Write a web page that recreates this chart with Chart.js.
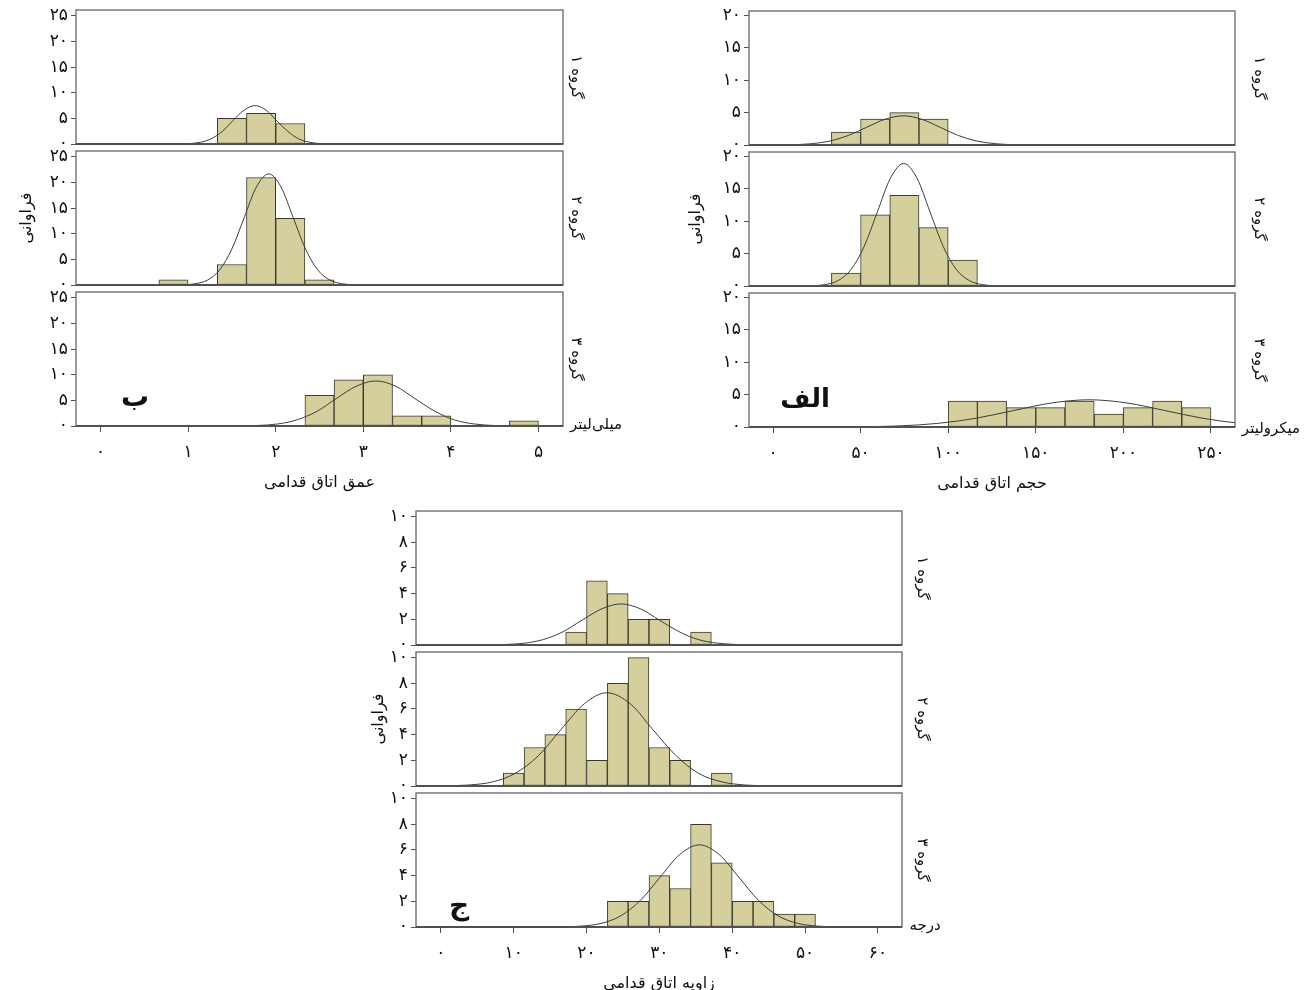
<!DOCTYPE html>
<html lang="fa">
<head>
<meta charset="utf-8">
<title>هیستوگرام اتاق قدامی</title>
<script src="https://cdn.jsdelivr.net/npm/chart.js@4.4.1/dist/chart.umd.min.js"></script>
<style>
    html, body { margin: 0; padding: 0; background: #fff; }
    body { width: 1309px; height: 990px; position: relative; overflow: hidden; font-family: "DejaVu Sans", sans-serif; }
    canvas { position: absolute; }
    .note { position: absolute; transform: translate(-50%, -50%); white-space: nowrap; color: #111; }
</style>
</head>
<body>
<script>
// ==========================
// DATA
// ==========================

const groupLabels = ["گروه ۱", "گروه ۲", "گروه ۳"];

// ب : عمق اتاق قدامی — bin width 1/3
const depthBins = [0.833, 1.167, 1.5, 1.833, 2.167, 2.5, 2.833, 3.167, 3.5, 3.833, 4.167, 4.5, 4.833];
const depthG1 = [0, 0, 5, 6, 4, 0, 0, 0, 0, 0, 0, 0, 0];
const depthG2 = [1, 0, 4, 21, 13, 1, 0, 0, 0, 0, 0, 0, 0];
const depthG3 = [0, 0, 0, 0, 0, 6, 9, 10, 2, 2, 0, 0, 1];
const depthCurveX1 = [0.76, 0.89, 1.01, 1.14, 1.26, 1.39, 1.51, 1.64, 1.76, 1.89, 2.01, 2.14, 2.26, 2.39, 2.51, 2.64, 2.76];
const depthCurveY1 = [0, 0.02, 0.08, 0.33, 1.01, 2.44, 4.55, 6.62, 7.5, 6.62, 4.55, 2.44, 1.01, 0.33, 0.08, 0.02, 0];
const depthCurveX2 = [0.80, 0.94, 1.08, 1.22, 1.36, 1.50, 1.64, 1.78, 1.92, 2.06, 2.20, 2.34, 2.48, 2.62, 2.76, 2.90, 3.04];
const depthCurveY2 = [0.01, 0.05, 0.24, 0.95, 2.94, 7.05, 13.16, 19.15, 21.7, 19.15, 13.16, 7.05, 2.94, 0.95, 0.24, 0.05, 0.01];
const depthCurveX3 = [1.34, 1.57, 1.79, 2.02, 2.24, 2.47, 2.69, 2.92, 3.14, 3.37, 3.59, 3.82, 4.04, 4.27, 4.49, 4.72, 4.94];
const depthCurveY3 = [0, 0.02, 0.10, 0.39, 1.19, 2.86, 5.34, 7.77, 8.8, 7.77, 5.34, 2.86, 1.19, 0.39, 0.10, 0.02, 0];
const depthTicks = [0, 1, 2, 3, 4, 5];
const depthTickLabels = ["۰", "۱", "۲", "۳", "۴", "۵"];
const depthYTicks = [0, 5, 10, 15, 20, 25];
const depthYTickLabels = ["۰", "۵", "۱۰", "۱۵", "۲۰", "۲۵"];

// الف : حجم اتاق قدامی — bin width 50/3
const volumeBins = [41.67, 58.33, 75, 91.67, 108.33, 125, 141.67, 158.33, 175, 191.67, 208.33, 225, 241.67];
const volumeG1 = [2, 4, 5, 4, 0, 0, 0, 0, 0, 0, 0, 0, 0];
const volumeG2 = [2, 11, 14, 9, 4, 0, 0, 0, 0, 0, 0, 0, 0];
const volumeG3 = [0, 0, 0, 0, 4, 4, 3, 3, 4, 2, 3, 4, 3];
const volumeCurveX1 = [-9.6, 0.9, 11.4, 21.9, 32.4, 42.9, 53.4, 63.9, 74.4, 84.9, 95.4, 105.9, 116.4, 126.9, 137.4, 147.9, 158.4];
const volumeCurveY1 = [0, 0.01, 0.05, 0.20, 0.61, 1.46, 2.73, 3.97, 4.5, 3.97, 2.73, 1.46, 0.61, 0.20, 0.05, 0.01, 0];
const volumeCurveX2 = [14.6, 22.1, 29.6, 37.1, 44.6, 52.1, 59.6, 67.1, 74.6, 82.1, 89.6, 97.1, 104.6, 112.1, 119.6, 127.1, 134.6];
const volumeCurveY2 = [0.01, 0.04, 0.21, 0.83, 2.56, 6.14, 11.46, 16.68, 18.9, 16.68, 11.46, 6.14, 2.56, 0.83, 0.21, 0.04, 0.01];
const volumeCurveX3 = [8.5, 30.0, 51.5, 73.0, 94.5, 116.0, 137.5, 159.0, 180.5, 202.0, 223.5, 245.0, 266.5, 288.0, 309.5];
const volumeCurveY3 = [0, 0.01, 0.05, 0.18, 0.57, 1.36, 2.55, 3.71, 4.2, 3.71, 2.55, 1.36, 0.57, 0.18, 0.05];
const volumeTicks = [0, 50, 100, 150, 200, 250];
const volumeTickLabels = ["۰", "۵۰", "۱۰۰", "۱۵۰", "۲۰۰", "۲۵۰"];
const volumeYTicks = [0, 5, 10, 15, 20];
const volumeYTickLabels = ["۰", "۵", "۱۰", "۱۵", "۲۰"];

// ج : زاویه اتاق قدامی — bin width 20/7
const angleBins = [10, 12.86, 15.71, 18.57, 21.43, 24.29, 27.14, 30, 32.86, 35.71, 38.57, 41.43, 44.29, 47.14, 50];
const angleG1 = [0, 0, 0, 1, 5, 4, 2, 2, 0, 1, 0, 0, 0, 0, 0];
const angleG2 = [1, 3, 4, 6, 2, 8, 10, 3, 2, 0, 1, 0, 0, 0, 0];
const angleG3 = [0, 0, 0, 0, 0, 2, 2, 4, 3, 8, 5, 2, 2, 1, 1];
const angleCurveX1 = [3.5, 6.2, 8.8, 11.5, 14.1, 16.8, 19.4, 22.1, 24.7, 27.4, 30.0, 32.7, 35.3, 38.0, 40.6, 43.3, 45.9];
const angleCurveY1 = [0, 0.01, 0.04, 0.14, 0.43, 1.04, 1.94, 2.82, 3.2, 2.82, 1.94, 1.04, 0.43, 0.14, 0.04, 0.01, 0];
const angleCurveX2 = [-2.4, 0.8, 3.9, 7.1, 10.2, 13.4, 16.5, 19.7, 22.8, 26.0, 29.1, 32.3, 35.4, 38.6, 41.7, 44.9, 48.0];
const angleCurveY2 = [0, 0.02, 0.08, 0.32, 0.98, 2.36, 4.40, 6.41, 7.26, 6.41, 4.40, 2.36, 0.98, 0.32, 0.08, 0.02, 0];
const angleCurveX3 = [13.9, 16.6, 19.3, 22.0, 24.7, 27.4, 30.1, 32.8, 35.5, 38.2, 40.9, 43.6, 46.3, 49.0, 51.7, 54.4, 57.1];
const angleCurveY3 = [0, 0.01, 0.07, 0.28, 0.87, 2.08, 3.88, 5.65, 6.4, 5.65, 3.88, 2.08, 0.87, 0.28, 0.07, 0.01, 0];
const angleTicks = [0, 10, 20, 30, 40, 50, 60];
const angleTickLabels = ["۰", "۱۰", "۲۰", "۳۰", "۴۰", "۵۰", "۶۰"];
const angleYTicks = [0, 2, 4, 6, 8, 10];
const angleYTickLabels = ["۰", "۲", "۴", "۶", "۸", "۱۰"];

// ==========================
// LAYOUT / STYLE
// ==========================

const FONT = "\"DejaVu Sans\", sans-serif";
const BAR_FILL = "#d4cf9d";
const BAR_EDGE = "#3a3a2c";
const CURVE = "#3c3c3c";
const FRAME = "#707070";
const BASE = "#505050";
const TEXT = "#111";

const PANEL_H = 134;
const PANEL_GAP = 7;
const X_AXIS_H = 68;
const PAD_TOP = 8;   // room for the top tick label above the frame

Chart.defaults.font.family = FONT;

const groups = [
    {
        bins: depthBins, counts: [depthG1, depthG2, depthG3],
        curves: [[depthCurveX1, depthCurveY1], [depthCurveX2, depthCurveY2], [depthCurveX3, depthCurveY3]],
        xTicks: depthTicks, xTickLabels: depthTickLabels, yTicks: depthYTicks, yTickLabels: depthYTickLabels,
        xTitle: "عمق اتاق قدامی", xMin: -0.28, xMax: 5.28, yMax: 26.17,
        left: 76, right: 563, top: 10, axisW: 60, yTitlePad: 1.4, sideOffset: 13
    },
    {
        bins: volumeBins, counts: [volumeG1, volumeG2, volumeG3],
        curves: [[volumeCurveX1, volumeCurveY1], [volumeCurveX2, volumeCurveY2], [volumeCurveX3, volumeCurveY3]],
        xTicks: volumeTicks, xTickLabels: volumeTickLabels, yTicks: volumeYTicks, yTickLabels: volumeYTickLabels,
        xTitle: "حجم اتاق قدامی", xMin: -13.7, xMax: 263.7, yMax: 20.68,
        left: 749, right: 1235, top: 11, axisW: 78, yTitlePad: 15, sideOffset: 24
    },
    {
        bins: angleBins, counts: [angleG1, angleG2, angleG3],
        curves: [[angleCurveX1, angleCurveY1], [angleCurveX2, angleCurveY2], [angleCurveX3, angleCurveY3]],
        xTicks: angleTicks, xTickLabels: angleTickLabels, yTicks: angleYTicks, yTickLabels: angleYTickLabels,
        xTitle: "زاویه اتاق قدامی", xMin: -3.4, xMax: 63.3, yMax: 10.44,
        left: 416, right: 902, top: 511, axisW: 50, yTitlePad: 3.4, sideOffset: 20
    }
];

// letters + units sitting beside the panels
const notes = [
    { text: "ب", x: 135, y: 396, size: 28, bold: true },
    { text: "الف", x: 805, y: 398, size: 26, bold: true },
    { text: "ج", x: 459, y: 904, size: 28, bold: true },
    { text: "میلی‌لیتر", x: 596, y: 424, size: 15 },
    { text: "میکرولیتر", x: 1271, y: 428, size: 15 },
    { text: "درجه", x: 925, y: 925, size: 15 }
];

// frame round the plot area, darker base line on top of the bars
const framePlugin = {
    id: "panelFrame",
    afterDatasetsDraw(chart) {
        const { ctx, chartArea: a } = chart;
        ctx.save();
        ctx.strokeStyle = FRAME;
        ctx.lineWidth = 1.4;
        ctx.strokeRect(a.left, a.top, a.right - a.left, a.bottom - a.top);
        ctx.strokeStyle = BASE;
        ctx.lineWidth = 2;
        ctx.beginPath();
        ctx.moveTo(a.left, a.bottom);
        ctx.lineTo(a.right, a.bottom);
        ctx.stroke();
        ctx.restore();
    }
};

function fixedTicks(values) {
    return scale => { scale.ticks = values.map(v => ({ value: v })); };
}

// keep Chart.js from shrinking the plot area for half tick labels
function noLabelPadding(scale) {
    scale.paddingTop = 0;
    scale.paddingBottom = 0;
    scale.paddingLeft = 0;
    scale.paddingRight = 0;
}

function makePanel(g, i) {
    const isBottom = i === 2;
    const padBottom = isBottom ? 0 : 1;
    const panelTop = g.top + i * (PANEL_H + PANEL_GAP);
    const sideW = g.sideOffset + 9;

    const canvas = document.createElement("canvas");
    canvas.width = g.axisW + (g.right - g.left) + sideW;
    canvas.height = PAD_TOP + PANEL_H + (isBottom ? X_AXIS_H : padBottom);
    canvas.style.left = (g.left - g.axisW) + "px";
    canvas.style.top = (panelTop - PAD_TOP) + "px";
    document.body.appendChild(canvas);

    const [cx, cy] = g.curves[i];
    const curvePts = cx.map((x, k) => ({ x: x, y: cy[k] }));
    const barPts = g.bins.map((x, k) => ({ x: x, y: g.counts[i][k] > 0 ? g.counts[i][k] : null }));

    new Chart(canvas, {
        type: "bar",
        data: {
            datasets: [
                {
                    type: "line",
                    data: curvePts,
                    borderColor: CURVE,
                    borderWidth: 1,
                    pointRadius: 0,
                    cubicInterpolationMode: "monotone",
                    fill: false,
                    order: 0
                },
                {
                    type: "bar",
                    data: barPts,
                    backgroundColor: BAR_FILL,
                    borderColor: BAR_EDGE,
                    borderWidth: 1,
                    borderSkipped: false,
                    barPercentage: 1,
                    categoryPercentage: 1,
                    order: 1
                }
            ]
        },
        options: {
            responsive: false,
            animation: false,
            events: [],
            layout: { padding: { top: PAD_TOP, bottom: padBottom, left: 0, right: 0 } },
            plugins: { legend: { display: false }, tooltip: { enabled: false } },
            scales: {
                x: {
                    type: "linear",
                    display: isBottom,
                    offset: false,
                    min: g.xMin,
                    max: g.xMax,
                    afterBuildTicks: fixedTicks(g.xTicks),
                    afterFit: s => { s.height = isBottom ? X_AXIS_H : 0; noLabelPadding(s); },
                    grid: { display: true, drawOnChartArea: false, drawTicks: true, tickLength: 6, color: BASE, offset: false },
                    border: { display: false },
                    ticks: {
                        autoSkip: false,
                        maxRotation: 0,
                        padding: 10,
                        color: TEXT,
                        font: { size: 17 },
                        callback: v => g.xTickLabels[g.xTicks.indexOf(v)]
                    },
                    title: { display: isBottom, text: g.xTitle, color: TEXT, font: { size: 16 }, padding: { top: 0, bottom: 2 } }
                },
                y: {
                    type: "linear",
                    position: "left",
                    min: 0,
                    max: g.yMax,
                    afterBuildTicks: fixedTicks(g.yTicks),
                    afterFit: s => { s.width = g.axisW; noLabelPadding(s); },
                    grid: { display: true, drawOnChartArea: false, drawTicks: true, tickLength: 5, color: BASE },
                    border: { display: false },
                    ticks: {
                        autoSkip: false,
                        padding: 3,
                        color: TEXT,
                        font: { size: 17 },
                        callback: v => g.yTickLabels[g.yTicks.indexOf(v)]
                    },
                    title: { display: i === 1, text: "فراوانی", color: TEXT, font: { size: 16 }, padding: { top: g.yTitlePad, bottom: 0 } }
                },
                side: {
                    type: "linear",
                    position: "right",
                    min: 0,
                    max: 1,
                    afterFit: s => { s.width = sideW; noLabelPadding(s); },
                    grid: { display: false },
                    border: { display: false },
                    ticks: { display: false },
                    title: { display: true, text: groupLabels[i], color: TEXT, font: { size: 15 }, padding: 0 }
                }
            }
        },
        plugins: [framePlugin]
    });
}

groups.forEach(g => {
    for (let i = 0; i < 3; i++) makePanel(g, i);
});

notes.forEach(n => {
    const d = document.createElement("div");
    d.className = "note";
    d.dir = "rtl";
    d.textContent = n.text;
    d.style.left = n.x + "px";
    d.style.top = n.y + "px";
    d.style.fontSize = n.size + "px";
    if (n.bold) d.style.fontWeight = "bold";
    document.body.appendChild(d);
});
</script>
</body>
</html>
